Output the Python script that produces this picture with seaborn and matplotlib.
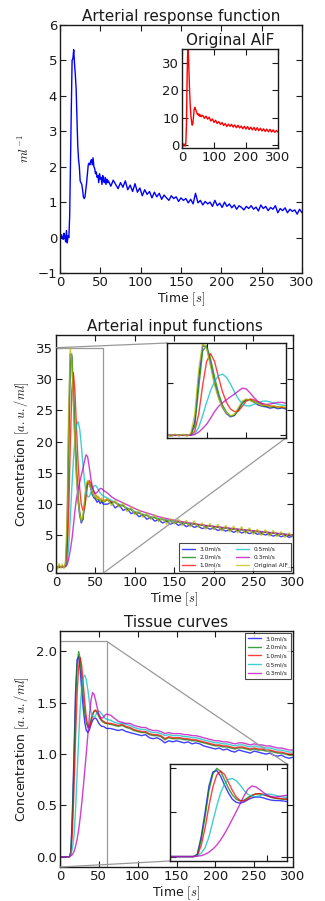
import numpy as np
import seaborn as sns
import matplotlib
matplotlib.use('Agg')
import matplotlib.pyplot as plt
from mpl_toolkits.axes_grid1.inset_locator import mark_inset

sns.set_theme(style='white')
plt.rcParams['font.family'] = ['DejaVu Sans']
plt.rcParams['mathtext.fontset'] = 'cm'
plt.rcParams['axes.edgecolor'] = 'k'
plt.rcParams['text.color'] = 'k'
plt.rcParams['axes.labelcolor'] = 'k'
plt.rcParams['xtick.color'] = 'k'
plt.rcParams['ytick.color'] = 'k'

# ---------------- data ----------------
# arterial response function (panel 1)
t_arf = np.concatenate([np.arange(0, 61, 1), np.arange(63, 301, 3)])
arf = [0.05, -0.02, 0.08, 0.0, -0.05, 0.12, 0.03, -0.12, 0.2, -0.15, 0.05, 0.0,
       0.6, 2.2, 3.6, 5.0, 5.05, 5.3, 4.9, 4.6, 4.2,
       3.4, 2.6, 2.2, 2.0, 1.6, 1.55, 1.5, 1.35, 1.15, 1.1,
       1.15, 1.35, 1.55, 1.8, 2.05, 2.1, 2.05, 2.15, 2.2, 2.05,
       2.25, 2.0, 1.95, 1.8, 1.85, 1.7, 1.75, 1.55, 1.8, 1.65,
       1.7, 1.5, 1.75, 1.6, 1.55, 1.7, 1.5, 1.65, 1.55, 1.6,
       1.45, 1.62, 1.5, 1.38, 1.55, 1.42, 1.6, 1.35, 1.48, 1.3,
       1.52, 1.28, 1.4, 1.18, 1.35, 1.22, 1.3, 1.12, 1.28, 1.15,
       1.25, 1.08, 1.2, 1.12, 1.05, 1.18, 1.1, 1.15, 1.02, 1.12,
       1.05, 1.1, 0.98, 1.08, 0.95, 1.25, 0.98, 1.05, 0.92, 1.02,
       0.95, 1.0, 0.88, 1.05, 0.9, 0.97, 0.85, 1.0, 0.88, 0.95,
       0.84, 0.92, 0.8, 0.9, 0.85, 0.78, 0.88, 0.82, 0.9, 0.8,
       0.86, 0.75, 0.92, 0.82, 0.88, 0.76, 0.85, 0.8, 0.9, 0.7,
       0.82, 0.76, 0.84, 0.7, 0.8, 0.74, 0.78, 0.66, 0.8, 0.7]

# time grid for AIFs and tissue curves
t = np.concatenate([np.arange(0, 61, 2), np.arange(65, 301, 5)])

aif_orig = [0.3, -0.4, 0.5, -0.2, 0.4, -0.3,
            0.8, 8, 25, 35, 33, 26, 19, 14, 10.5, 8.5, 7.3, 8.0, 10.5, 13.0, 13.8,
            13.2, 12.6, 12.0, 11.2, 11.5, 10.8, 11.3, 10.5, 11.0, 10.4,
            10.9, 9.8, 10.6, 9.5, 10.2, 8.8, 9.6, 8.3, 9.1, 7.9, 8.6, 7.6, 8.3, 7.2,
            7.9, 6.8, 7.7, 6.9, 7.6, 6.6, 7.4, 6.4, 7.3, 6.3, 7.0, 6.0, 6.9, 5.9,
            6.8, 5.7, 6.6, 5.6, 6.5, 5.4, 6.4, 5.3, 6.2, 5.2, 6.0, 5.0, 5.9, 4.9,
            5.8, 4.8, 5.6, 4.7, 5.4, 4.8]
aif_30 = [0.1, -0.2, 0.2, -0.1, 0.15, -0.1,
          0.3, 5, 22, 34, 33.5, 27, 20, 14.5, 10.5, 8.2, 7.0, 7.6, 10.0, 12.5, 13.6,
          13.3, 12.5, 11.5, 11.0, 10.8, 10.3, 10.6, 10.1, 10.4, 10.0,
          10.0, 10.3, 9.4, 9.9, 9.0, 9.3, 8.5, 8.7, 8.0, 8.3, 7.6, 7.9, 7.3, 7.5,
          7.0, 7.3, 6.8, 7.1, 6.6, 6.9, 6.4, 6.7, 6.3, 6.5, 6.1, 6.3, 6.0, 6.2,
          5.8, 6.0, 5.7, 5.9, 5.5, 5.8, 5.4, 5.6, 5.3, 5.5, 5.2, 5.3, 5.1, 5.2,
          4.9, 5.1, 4.8, 5.0, 4.7, 4.9]
aif_20 = [0.05, 0, 0.05, 0, 0.05, 0,
          0.2, 3.5, 18, 32, 34, 29, 22, 16, 11.5, 8.8, 7.4, 7.5, 9.5, 12.2, 13.5,
          13.4, 12.8, 12.0, 11.4, 11.0, 10.8, 10.7, 10.5, 10.6, 10.3,
          10.7, 10.2, 10.3, 9.7, 9.8, 9.1, 9.2, 8.5, 8.7, 8.1, 8.3, 7.7, 7.9, 7.4,
          7.6, 7.2, 7.4, 7.0, 7.2, 6.8, 7.0, 6.6, 6.9, 6.5, 6.7, 6.3, 6.6, 6.2,
          6.4, 6.0, 6.3, 5.9, 6.1, 5.8, 6.0, 5.6, 5.9, 5.5, 5.7, 5.4, 5.6, 5.2,
          5.5, 5.1, 5.3, 5.0, 5.2, 4.9]
aif_10 = [0, 0, 0, 0, 0, 0,
          0.1, 1.5, 8, 19, 28, 31, 28, 22, 16.5, 12.5, 10.0, 9.0, 9.2, 11.0, 13.0,
          13.8, 13.4, 12.6, 12.0, 11.5, 11.2, 11.0, 10.8, 10.7, 10.5,
          10.8, 10.4, 10.3, 9.9, 9.8, 9.3, 9.2, 8.7, 8.6, 8.3, 8.2, 7.9, 7.9, 7.6,
          7.6, 7.4, 7.4, 7.2, 7.2, 7.0, 7.0, 6.8, 6.8, 6.7, 6.7, 6.5, 6.5, 6.4,
          6.3, 6.2, 6.2, 6.1, 6.0, 5.95, 5.9, 5.8, 5.8, 5.7, 5.6, 5.55, 5.5, 5.4,
          5.4, 5.3, 5.2, 5.15, 5.1, 5.0]
aif_05 = [0, 0, 0, 0, 0, 0,
          0.05, 0.6, 3, 7.5, 12.5, 17, 20.5, 22.6, 23.2, 22, 19.5, 16.5, 13.8, 12.0, 11.2,
          11.2, 11.8, 12.4, 12.9, 13.0, 12.7, 12.2, 11.8, 11.5, 11.3,
          11.0, 10.6, 10.3, 10.0, 9.7, 9.4, 9.1, 8.8, 8.6, 8.4, 8.2, 8.0, 7.85, 7.7,
          7.55, 7.45, 7.35, 7.25, 7.15, 7.05, 6.95, 6.85, 6.8, 6.7, 6.65, 6.55, 6.5, 6.4,
          6.35, 6.25, 6.2, 6.1, 6.05, 6.0, 5.9, 5.85, 5.8, 5.7, 5.65, 5.6, 5.5, 5.45,
          5.4, 5.3, 5.25, 5.2, 5.1, 5.05]
aif_03 = [0, 0, 0, 0, 0, 0,
          0, 0.3, 1.2, 2.6, 4.2, 6.5, 9.0, 11.0, 12.3, 13.5, 14.6, 15.6, 16.8, 17.9, 17.6,
          16.0, 14.2, 12.8, 12.0, 11.7, 11.9, 12.2, 12.5, 12.5, 12.2,
          11.8, 11.2, 10.8, 10.5, 10.2, 9.9, 9.6, 9.3, 9.0, 8.8, 8.6, 8.4, 8.2, 8.0,
          7.85, 7.7, 7.55, 7.45, 7.3, 7.2, 7.1, 7.0, 6.9, 6.8, 6.7, 6.6, 6.55, 6.45,
          6.4, 6.3, 6.25, 6.15, 6.1, 6.0, 5.95, 5.9, 5.8, 5.75, 5.7, 5.6, 5.55, 5.5,
          5.4, 5.35, 5.3, 5.2, 5.15, 5.1]

tis_30 = [0, 0, 0, 0, 0, 0,
          0.0, 0.05, 0.45, 1.0, 1.6, 1.92, 1.95, 1.82, 1.62, 1.44, 1.3, 1.23, 1.21, 1.24, 1.29,
          1.33, 1.35, 1.35, 1.33, 1.3, 1.28, 1.27, 1.27, 1.26, 1.25,
          1.25, 1.24, 1.23, 1.24, 1.22, 1.21, 1.2, 1.19, 1.18, 1.19, 1.16, 1.15, 1.16, 1.14,
          1.11, 1.13, 1.12, 1.13, 1.12, 1.11, 1.12, 1.1, 1.11, 1.1, 1.08, 1.07, 1.06, 1.05,
          1.06, 1.04, 1.05, 1.03, 1.02, 1.04, 1.03, 1.02, 1.01, 1.03, 1.02, 1.01, 1.0, 1.01,
          0.99, 0.98, 0.99, 0.97, 0.96, 0.97]
tis_20 = [0, 0, 0, 0, 0, 0,
          0.0, 0.04, 0.38, 0.9, 1.5, 1.87, 2.0, 1.93, 1.74, 1.55, 1.4, 1.3, 1.26, 1.28, 1.34,
          1.39, 1.42, 1.42, 1.4, 1.37, 1.34, 1.32, 1.31, 1.3, 1.3,
          1.29, 1.28, 1.27, 1.28, 1.26, 1.25, 1.23, 1.22, 1.21, 1.21, 1.19, 1.18, 1.18, 1.17,
          1.14, 1.16, 1.15, 1.15, 1.15, 1.14, 1.14, 1.13, 1.13, 1.12, 1.11, 1.1, 1.09, 1.08,
          1.08, 1.07, 1.07, 1.06, 1.05, 1.06, 1.06, 1.05, 1.04, 1.05, 1.04, 1.04, 1.03, 1.03,
          1.02, 1.01, 1.01, 1.0, 0.99, 0.99]
tis_10 = [0, 0, 0, 0, 0, 0,
          0.0, 0.02, 0.25, 0.65, 1.15, 1.58, 1.85, 1.94, 1.86, 1.68, 1.5, 1.35, 1.27, 1.26, 1.31,
          1.38, 1.42, 1.43, 1.41, 1.38, 1.35, 1.33, 1.32, 1.31, 1.3,
          1.3, 1.29, 1.28, 1.29, 1.27, 1.26, 1.24, 1.23, 1.22, 1.22, 1.2, 1.19, 1.19, 1.18,
          1.15, 1.17, 1.16, 1.16, 1.16, 1.15, 1.15, 1.14, 1.14, 1.13, 1.12, 1.11, 1.1, 1.09,
          1.09, 1.08, 1.08, 1.07, 1.06, 1.07, 1.07, 1.06, 1.05, 1.06, 1.05, 1.05, 1.04, 1.04,
          1.03, 1.02, 1.02, 1.01, 1.0, 1.0]
tis_05 = [0, 0, 0, 0, 0, 0,
          0, 0.02, 0.08, 0.2, 0.45, 0.8, 1.15, 1.45, 1.65, 1.75, 1.77, 1.72, 1.62, 1.5, 1.41,
          1.37, 1.36, 1.38, 1.41, 1.42, 1.41, 1.39, 1.37, 1.35, 1.34,
          1.33, 1.31, 1.3, 1.3, 1.29, 1.28, 1.26, 1.25, 1.24, 1.24, 1.22, 1.21, 1.21, 1.2,
          1.18, 1.19, 1.18, 1.18, 1.18, 1.17, 1.17, 1.16, 1.16, 1.15, 1.14, 1.13, 1.12, 1.11,
          1.11, 1.1, 1.1, 1.09, 1.08, 1.09, 1.09, 1.08, 1.07, 1.08, 1.07, 1.07, 1.06, 1.06,
          1.05, 1.04, 1.04, 1.03, 1.02, 1.02]
tis_03 = [0, 0, 0, 0, 0, 0,
          0, 0.01, 0.02, 0.05, 0.1, 0.17, 0.26, 0.38, 0.52, 0.68, 0.85, 1.02, 1.2, 1.38, 1.53,
          1.6, 1.58, 1.52, 1.45, 1.39, 1.36, 1.35, 1.36, 1.38, 1.39,
          1.38, 1.35, 1.32, 1.31, 1.3, 1.3, 1.28, 1.27, 1.26, 1.26, 1.24, 1.23, 1.23, 1.22,
          1.2, 1.21, 1.2, 1.2, 1.2, 1.19, 1.19, 1.18, 1.18, 1.17, 1.16, 1.15, 1.14, 1.13,
          1.13, 1.12, 1.12, 1.11, 1.1, 1.11, 1.11, 1.1, 1.09, 1.1, 1.09, 1.09, 1.08, 1.08,
          1.07, 1.06, 1.06, 1.05, 1.04, 1.04]

aif_labels = ['3.0ml/s', '2.0ml/s', '1.0ml/s', '0.5ml/s', '0.3ml/s', 'Original AIF']
tis_labels = ['3.0ml/s', '2.0ml/s', '1.0ml/s', '0.5ml/s', '0.3ml/s']
colors = [(0, 0, 1), (0, 0.5, 0), (1, 0, 0), (0, 0.75, 0.75), (0.75, 0, 0.75), (0.75, 0.75, 0)]

aifs = [aif_30, aif_20, aif_10, aif_05, aif_03, aif_orig]
tissues = [tis_30, tis_20, tis_10, tis_05, tis_03]

BLUE = (0, 0, 1)
RED = (1, 0, 0)


def style(ax, labels=True, size=9.5):
    ax.tick_params(direction='in', top=True, right=True, bottom=True, left=True,
                   length=4, width=0.8, labelsize=size, pad=2,
                   labelleft=labels, labelbottom=labels)
    for s in ax.spines.values():
        s.set_color('k')
        s.set_linewidth(1.0)


fig = plt.figure(figsize=(3.25, 9.01), dpi=100)

# ---------------- panel 1 ----------------
ax1 = fig.add_axes([0.1846, 0.697, 0.7446, 0.2753])
sns.lineplot(x=t_arf, y=arf, ax=ax1, color=BLUE, lw=1.0)
ax1.set_xlim(0, 300)
ax1.set_ylim(-1, 6)
ax1.set_xticks(range(0, 301, 50))
ax1.set_title('Arterial response function', fontsize=11, pad=3)
ax1.set_xlabel('Time $[s]$', fontsize=9, labelpad=1)
ax1.set_ylabel('$ml^{-1}$', fontsize=9)
style(ax1)

ins1 = fig.add_axes([0.56, 0.8357, 0.2954, 0.1099])
sns.lineplot(x=t, y=aif_orig, ax=ins1, color=RED, lw=1.0)
ins1.set_xlim(0, 300)
ins1.set_ylim(-1, 35)
ins1.set_xticks([0, 100, 200, 300])
ins1.set_yticks([0, 10, 20, 30])
ins1.set_title('Original AIF', fontsize=11, pad=3)
style(ins1)

# ---------------- panel 2 ----------------
ax2 = fig.add_axes([0.1723, 0.364, 0.729, 0.264])
for y, c, lab in zip(aifs, colors, aif_labels):
    sns.lineplot(x=t, y=y, ax=ax2, color=c, lw=1.0, alpha=0.75, label=lab)
ax2.set_xlim(0, 300)
ax2.set_ylim(-1, 37)
ax2.set_xticks(range(0, 301, 50))
ax2.set_yticks(range(0, 36, 5))
ax2.set_title('Arterial input functions', fontsize=11, pad=3)
ax2.set_xlabel('Time $[s]$', fontsize=9, labelpad=1)
ax2.set_ylabel('Concentration $[a.u./ml]$', fontsize=9)
style(ax2)
leg = ax2.legend(loc='lower right', ncol=2, fontsize=4.2, frameon=True, fancybox=False,
                 borderpad=0.6, handlelength=2.2, columnspacing=2.5, labelspacing=0.5,
                 borderaxespad=0.3)
leg.get_frame().set_edgecolor('k')
leg.get_frame().set_linewidth(0.8)

ins2 = fig.add_axes([0.5138, 0.5139, 0.366, 0.1054])
for y, c in zip(aifs, colors):
    sns.lineplot(x=t, y=y, ax=ins2, color=c, lw=1.0, alpha=0.75)
ins2.set_xlim(0, 60)
ins2.set_ylim(-1, 35)
style(ins2, labels=False)
mark_inset(ax2, ins2, loc1=2, loc2=4, fc='none', ec='0.6', lw=0.9)

# ---------------- panel 3 ----------------
ax3 = fig.add_axes([0.1846, 0.0377, 0.717, 0.262])
for y, c, lab in zip(tissues, colors, tis_labels):
    sns.lineplot(x=t, y=y, ax=ax3, color=c, lw=1.0, alpha=0.75, label=lab)
ax3.set_xlim(0, 300)
ax3.set_ylim(-0.1, 2.2)
ax3.set_xticks(range(0, 301, 50))
ax3.set_yticks([0.0, 0.5, 1.0, 1.5, 2.0])
ax3.set_title('Tissue curves', fontsize=11, pad=3)
ax3.set_xlabel('Time $[s]$', fontsize=9, labelpad=1)
ax3.set_ylabel('Concentration $[a.u./ml]$', fontsize=9)
style(ax3)
leg3 = ax3.legend(loc='upper right', fontsize=4.2, frameon=True, fancybox=False,
                  borderpad=0.6, handlelength=2.2, labelspacing=0.6, borderaxespad=0.3)
leg3.get_frame().set_edgecolor('k')
leg3.get_frame().set_linewidth(0.8)

ins3 = fig.add_axes([0.523, 0.0444, 0.36, 0.1077])
for y, c in zip(tissues, colors):
    sns.lineplot(x=t, y=y, ax=ins3, color=c, lw=1.0, alpha=0.75)
ins3.set_xlim(0, 60)
ins3.set_ylim(-0.1, 2.1)
style(ins3, labels=False)
mark_inset(ax3, ins3, loc1=1, loc2=3, fc='none', ec='0.6', lw=0.9)

fig.savefig('out.png', dpi=100)
